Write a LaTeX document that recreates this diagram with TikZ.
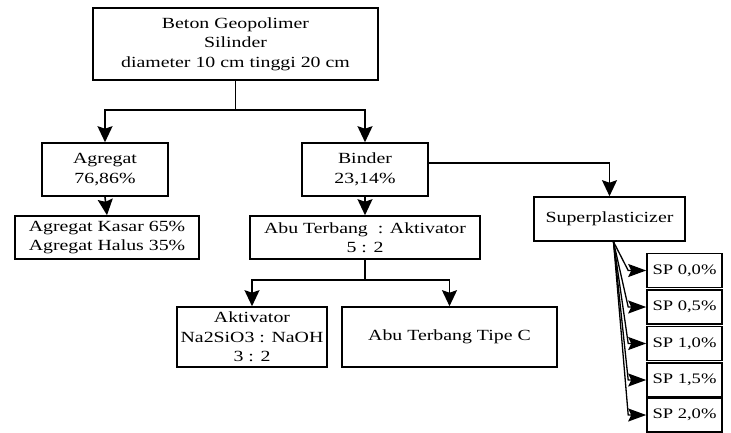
\documentclass[tikz,border=0pt]{standalone}
\usepackage{fontspec}
\setmainfont{Liberation Serif}[FakeStretch=1.28]
\usetikzlibrary{arrows.meta}
\begin{document}
\begin{tikzpicture}[x=1pt,y=-1pt,
  box/.style={draw=black,line width=1.6pt,align=center,inner sep=1pt,
    font=\fontsize{15.5}{19.5}\selectfont},
  spbox/.style={box,minimum width=75pt,minimum height=34pt,font=\fontsize{14.5}{17}\selectfont},
  tipbig/.tip={Stealth[length=16pt,width=15pt,inset=2.5pt]},
  tipsp/.tip={Stealth[length=18pt,width=13pt,inset=3pt]},
  conn/.style={line width=1.6pt,-tipbig},
  thinconn/.style={line width=1.3pt,-tipsp},
  plain/.style={line width=1.6pt}]
\useasboundingbox (0,0) rectangle (731,432);
\node[box,minimum width=285pt,minimum height=72pt] (top) at (235.5,44) {Beton Geopolimer\\Silinder\\diameter 10 cm tinggi 20 cm};
\node[box,minimum width=126pt,minimum height=53pt] (agr) at (105,169.5) {Agregat\\76,86\%};
\node[box,minimum width=184pt,minimum height=43pt] (kas) at (107,237.5) {Agregat Kasar 65\%\\Agregat Halus 35\%};
\node[box,minimum width=126pt,minimum height=53pt] (bin) at (365,169.5) {Binder\\23,14\%};
\node[box,minimum width=230pt,minimum height=43pt] (abu) at (365,237.5) {Abu Terbang~ : Aktivator\\5 : 2};
\node[box,minimum width=151pt,minimum height=44pt] (sp) at (609.5,219) {Superplasticizer};
\node[box,minimum width=150pt,minimum height=60pt] (akt) at (252,337) {Aktivator\\Na2SiO3 : NaOH\\3 : 2};
\node[box,minimum width=215pt,minimum height=60pt] (tc) at (449.5,337) {Abu Terbang Tipe C};
\node[spbox] (s0) at (684.5,270.5) {SP 0,0\%};
\node[spbox] (s1) at (684.5,307) {SP 0,5\%};
\node[spbox] (s2) at (684.5,343.5) {SP 1,0\%};
\node[spbox] (s3) at (684.5,380) {SP 1,5\%};
\node[spbox] (s4) at (684.5,415) {SP 2,0\%};
\coordinate (j1) at (235.5,110);
\coordinate (j2) at (365,280);
\draw[plain] (top.south) -- (j1);
\draw[conn] (j1) -| (agr.north);
\draw[conn] (j1) -| (bin.north);
\draw[conn] (agr.south) -- (kas.north);
\draw[conn] (bin.south) -- (abu.north);
\draw[conn] ([yshift=6.5pt]bin.east) -| (sp.north);
\draw[plain] (abu.south) -- (j2);
\draw[conn] (j2) -| (akt.north);
\draw[conn] (j2) -| (tc.north);
\coordinate (spo) at ([xshift=4pt]sp.south);
\foreach \s in {s0,s1,s2,s3,s4}
  \draw[thinconn] (spo) -- ([xshift=-18pt]\s.west) -- (\s.west);
\end{tikzpicture}
\end{document}
